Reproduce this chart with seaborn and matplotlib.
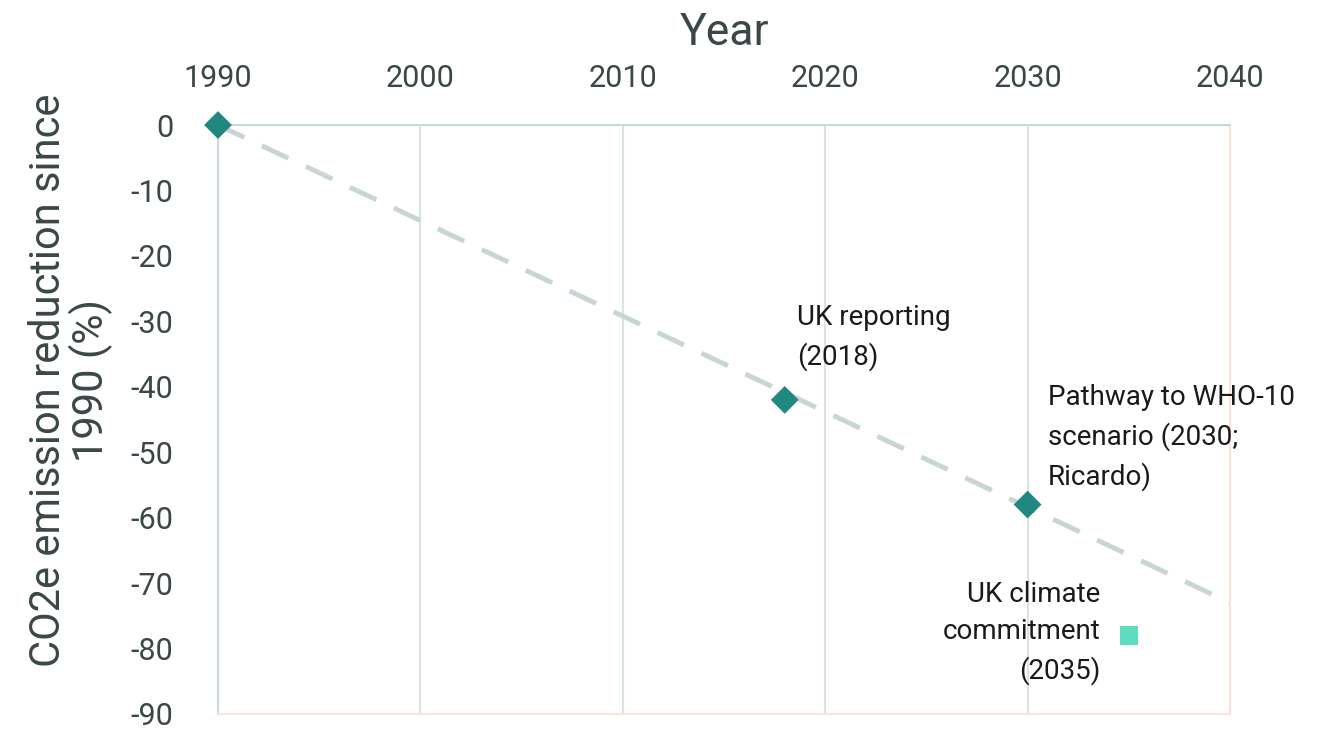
import matplotlib
matplotlib.use("Agg")
import pandas as pd
import seaborn as sns
import matplotlib.pyplot as plt

# Trend line (1990 baseline to 2040 projection)
trend_years = [1990, 2040]
trend_values = [0, -73]

# Milestone markers
milestone_years = [1990, 2018, 2030]
milestone_values = [0, -42, -58]

# Climate commitment
commit_years = [2035]
commit_values = [-78]

x_ticks = [1990, 2000, 2010, 2020, 2030, 2040]
y_ticks = [0, -10, -20, -30, -40, -50, -60, -70, -80, -90]

sns.set_style("white")
plt.rcParams['font.family'] = ['Liberation Sans Narrow', 'Roboto', 'DejaVu Sans']
plt.rcParams['axes.unicode_minus'] = False

fig = plt.figure(figsize=(13.22, 7.32), dpi=100)
ax = fig.add_axes([0.1649, 0.0246, 0.7655, 0.8046])

trend = pd.DataFrame({'year': trend_years, 'value': trend_values})
miles = pd.DataFrame({'year': milestone_years, 'value': milestone_values})
commit = pd.DataFrame({'year': commit_years, 'value': commit_values})

sns.lineplot(data=trend, x='year', y='value', ax=ax, color='#c9d5d3',
             linewidth=3.5, zorder=2)
# dashed style
ax.lines[-1].set_linestyle((0, (6, 4)))
sns.scatterplot(data=miles, x='year', y='value', ax=ax, marker='D', s=200,
                color='#21887f', edgecolor='none', zorder=3, clip_on=False)
sns.scatterplot(data=commit, x='year', y='value', ax=ax, marker='s', s=170,
                color='#5edcc0', edgecolor='none', zorder=3)

ax.set_xlim(1990, 2040)
ax.set_ylim(-90, 0)
ax.set_xticks(x_ticks)
ax.set_yticks(y_ticks)
ax.xaxis.tick_top()
ax.xaxis.set_label_position('top')
ax.tick_params(length=0, labelsize=22, colors='#3b4646')
ax.tick_params(axis='x', pad=23)
ax.tick_params(axis='y', pad=32)
ax.grid(axis='x', color='#dbe4e4', linewidth=1.5)

for side in ['left', 'top']:
    ax.spines[side].set_color('#c9d8d8')
    ax.spines[side].set_linewidth(1.5)
for side in ['right', 'bottom']:
    ax.spines[side].set_color('#fbe2da')
    ax.spines[side].set_linewidth(1.5)

ax.set_xlabel('Year', fontsize=32, color='#3b4646', labelpad=14)
ax.set_ylabel('CO2e emission reduction since\n1990 (%)', fontsize=30,
              color='#3b4646', linespacing=1.0)
ax.yaxis.set_label_coords(-0.104, 0.567)

ax.text(2018.6, -32.5, 'UK reporting\n(2018)', fontsize=20, color='#1a1a1a',
        ha='left', va='center', linespacing=1.5)
ax.text(2031.0, -47.8, 'Pathway to WHO-10\nscenario (2030;\nRicardo)', fontsize=20,
        color='#1a1a1a', ha='left', va='center', linespacing=1.5)
ax.text(2033.6, -77.6, 'UK climate\ncommitment\n(2035)', fontsize=20,
        color='#1a1a1a', ha='right', va='center', linespacing=1.5)

fig.savefig('out.png', dpi=100)
